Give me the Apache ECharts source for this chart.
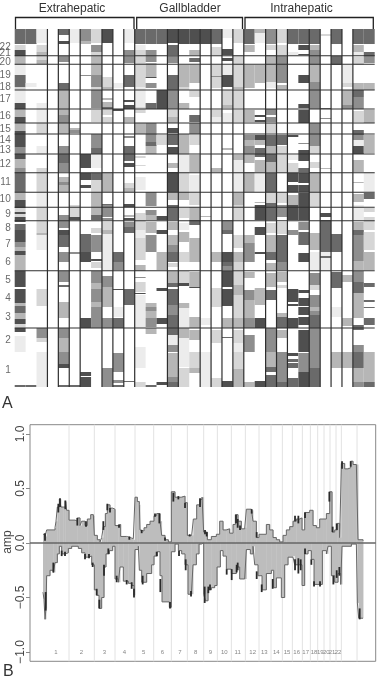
<!DOCTYPE html>
<html>
<head>
<meta charset="utf-8">
<title>CGH</title>
<style>
html, body { margin: 0; padding: 0; background: #fff; }
#main { width: 378px; height: 680px; }
</style>
<script src="https://cdn.jsdelivr.net/npm/echarts@6/dist/echarts.min.js"></script>
</head>
<body>
<div id="main"></div>
<script>
// panel A: one list per sample, each segment is [genome start, genome end, level]
var s01 = [[29,44,5],[45,50,2],[50,56,6],[56,65,3],[65,75,1],[75,87,5],[87,90,2],[90,103,1],[103,109,6],[109,117,3],[117,123,6],[123,131,3],[131,147,6],[147,154,4],[154,159,6],[159,168,3],[168,172,4],[172,192,5],[192,200,3],[200,208,6],[208,212,2],[212,214,6],[214,217,2],[217,222,6],[224,230,5],[230,242,6],[242,247,4],[247,251,3],[251,255,6],[255,271,3],[271,287,6],[289,303,6],[303,306,3],[306,313,5],[313,319,3],[319,324,6],[324,328,2],[328,332,6],[336,352,1],[385,387,5]];
var s02 = [[29,44,5],[83,87,1],[385,387,5]];
var s03 = [[29,43,1],[45,52,2],[52,56,3],[56,60,2],[60,64,3],[103,123,1],[123,134,2],[146,154,1],[168,192,2],[192,207,1],[208,220,2],[220,233,2],[233,235,3],[235,250,1],[289,306,2],[328,338,4],[338,342,2],[352,387,1]];
var s04 = [];
var s05 = [[29,35,5],[41,44,6],[56,62,4],[83,90,5],[90,115,3],[115,123,4],[123,134,3],[146,154,4],[154,163,5],[163,172,4],[177,182,3],[182,185,4],[185,192,3],[215,228,4],[230,235,6],[235,247,5],[252,262,4],[271,282,4],[285,287,5],[302,318,3],[328,338,4],[338,352,3],[352,364,4],[364,368,6],[385,387,5]];
var s06 = [[29,43,1],[128,130,3],[130,133,4],[205,217,2],[217,220,6],[252,254,4],[385,387,5]];
var s07 = [[29,41,4],[41,44,3],[75,76,4],[154,168,6],[173,180,6],[185,188,6],[234,252,5],[252,262,6],[318,328,6],[372,376,6],[377,387,6]];
var s08 = [[29,43,2],[45,52,4],[52,56,2],[56,75,3],[75,87,4],[87,90,2],[90,108,4],[110,122,2],[134,148,4],[148,154,5],[154,168,1],[173,180,5],[180,192,2],[192,205,3],[205,215,3],[215,220,5],[228,233,2],[235,252,4],[259,261,6],[262,268,2],[271,283,4],[283,289,3],[289,302,4],[302,307,3],[307,328,4]];
var s09 = [[29,43,6],[77,87,2],[87,90,3],[98,100,3],[102,107,3],[107,109,5],[110,115,2],[117,122,2],[172,192,3],[204,207,5],[205,217,4],[218,220,4],[222,230,2],[230,234,3],[234,270,1],[276,287,4],[287,307,3],[318,328,4],[368,387,4]];
var s10 = [[83,88,1],[109,111,6],[252,262,5],[262,270,4],[289,290,6],[307,317,1],[318,328,5],[353,372,4],[380,383,4],[385,387,5]];
var s11 = [[29,43,1],[50,55,4],[56,63,4],[75,87,5],[100,102,6],[105,109,6],[117,122,3],[136,138,4],[146,161,5],[163,167,6],[183,188,2],[188,192,3],[204,207,6],[215,217,3],[218,220,6],[222,227,4],[227,233,5],[289,305,5],[381,382,5]];
var s12 = [[29,44,5],[45,50,1],[50,65,2],[65,87,2],[87,90,1],[90,107,1],[107,113,2],[123,134,3],[156,158,2],[165,166,2],[177,190,1],[213,230,2],[230,238,1],[238,260,2],[265,271,3],[277,278,4],[282,292,2],[293,294,6],[295,328,1],[347,368,1],[382,387,2]];
var s13 = [[29,44,5],[50,55,4],[55,62,4],[63,77,3],[77,78,6],[83,88,4],[103,109,5],[123,142,4],[142,146,5],[146,154,3],[192,206,4],[210,215,4],[215,220,3],[222,233,3],[235,252,4],[303,307,3],[307,311,4],[311,318,3],[318,327,4],[328,334,3],[385,387,5]];
var s14 = [[29,44,5],[90,109,6],[135,145,2],[216,220,6],[230,234,6],[252,270,3],[288,291,6],[318,324,6],[382,385,6]];
var s15 = [[29,43,6],[45,55,5],[56,63,4],[75,90,5],[90,109,4],[110,117,2],[117,123,3],[128,133,6],[134,145,5],[147,154,6],[163,168,3],[172,192,6],[192,200,3],[205,220,5],[222,230,3],[235,245,3],[245,252,4],[252,262,5],[263,267,2],[271,283,3],[283,287,5],[289,305,5],[305,315,4],[315,335,5],[335,345,1],[345,352,4],[353,377,3],[377,382,4],[382,387,5]];
var s16 = [[29,44,6],[65,87,3],[87,90,2],[103,109,3],[134,154,3],[154,172,1],[172,192,2],[192,200,3],[208,218,2],[223,230,1],[232,242,3],[252,262,2],[271,283,2],[283,286,6],[303,308,3],[308,328,1],[328,332,3],[332,338,3],[338,367,1],[368,387,2]];
var s17 = [[29,44,6],[50,55,3],[58,62,5],[65,83,3],[90,97,2],[115,122,5],[123,134,4],[135,145,2],[155,172,3],[175,192,1],[193,205,2],[207,220,3],[220,225,5],[238,262,3],[272,287,3],[287,288,6],[317,328,3],[330,340,3],[352,368,2],[368,373,3]];
var s18 = [[29,44,6],[216,217,3],[318,325,1],[352,387,1]];
var s19 = [[29,44,5],[47,55,2],[65,76,2],[76,77,4],[77,88,2],[110,117,2],[117,122,1],[168,172,3],[252,262,3],[288,307,2],[330,343,2],[378,387,2]];
var s20 = [[29,38,1],[49,55,6],[58,61,6],[65,75,1],[75,87,6],[90,105,2],[105,108,3],[113,123,1],[148,150,3],[220,230,4],[230,234,5],[252,262,6],[262,266,5],[266,270,4],[271,287,6],[289,306,6],[318,328,3],[337,338,5],[381,387,6]];
var s21 = [[29,43,2],[55,65,2],[65,87,2],[87,89,3],[90,108,2],[110,122,2],[155,160,3],[160,172,1],[172,192,1],[193,205,3],[205,220,2],[235,248,2],[252,262,3],[262,270,2],[271,285,2],[285,295,3],[295,318,2],[318,328,3],[330,343,2],[343,352,1],[352,369,2],[369,387,3]];
var s22 = [[29,44,5],[45,52,3],[65,88,3],[110,122,3],[135,140,4],[140,146,3],[146,154,4],[154,163,3],[172,192,3],[235,243,3],[243,252,4],[252,262,4],[272,278,3],[290,300,4],[300,318,3],[318,328,4],[335,342,4],[342,352,4],[382,387,3]];
var s23 = [[29,33,3],[33,36,1],[36,43,1],[65,83,3],[115,117,6],[120,122,6],[135,140,6],[140,145,3],[148,157,5],[160,172,3],[172,192,1],[202,203,3],[205,220,6],[227,235,6],[252,254,6],[288,305,3],[318,328,6],[381,387,6]];
var s24 = [[29,44,4],[45,50,2],[55,65,3],[65,82,3],[82,88,1],[109,115,4],[117,122,4],[123,133,2],[135,146,5],[146,154,3],[154,162,5],[162,172,3],[173,192,5],[192,203,2],[203,220,5],[223,233,2],[235,252,3],[252,260,5],[263,270,3],[273,287,3],[290,300,5],[328,352,4],[352,367,3],[367,372,5],[375,387,5]];
var s25 = [[29,43,2],[45,55,2],[56,65,4],[65,83,4],[85,90,3],[135,145,5],[146,154,2],[155,172,2],[192,203,2],[205,217,4],[222,234,2],[235,262,5],[262,270,4],[272,282,3],[285,288,2],[313,317,3],[317,328,5],[330,338,3],[352,382,4],[382,387,5]];
var s26 = [[29,44,5],[52,55,1],[135,137,6],[155,160,1],[163,172,2],[173,182,6],[185,192,6],[195,207,3],[205,220,6],[230,235,4],[289,302,6],[304,306,6],[318,328,6],[353,356,6],[359,362,5],[363,368,5],[378,387,5]];
var s27 = [[29,44,5],[45,50,6],[54,55,6],[75,83,6],[104,108,6],[110,123,6],[143,144,4],[150,161,6],[168,172,5],[173,183,6],[185,192,6],[193,220,6],[222,230,4],[232,245,5],[253,262,6],[290,293,6],[298,306,6],[307,315,6],[317,325,6],[330,352,6],[353,372,4],[372,387,6]];
var s28 = [[29,44,5],[45,50,3],[50,55,4],[55,65,4],[65,82,3],[82,109,4],[123,146,4],[146,154,2],[162,168,2],[172,192,3],[192,207,2],[233,250,3],[252,270,1],[273,285,4],[285,290,2],[295,307,4],[307,311,3],[311,315,4],[315,328,5],[328,368,4],[368,387,5]];
var s29 = [[34,36,2],[108,109,5],[118,119,4],[168,169,3],[213,217,6],[220,252,5],[252,270,1],[256,258,5]];
var s30 = [[29,44,5],[56,65,5],[234,252,5],[272,288,5],[307,317,1],[352,368,3]];
var s31 = [[65,83,1],[83,87,2],[90,105,3],[105,109,4],[275,282,3],[318,326,3],[352,368,3]];
var s32 = [[29,44,5],[45,52,3],[52,55,1],[57,65,2],[83,90,3],[90,97,5],[97,109,4],[111,122,2],[130,135,5],[135,140,4],[140,146,1],[146,154,6],[160,172,3],[182,183,3],[194,202,3],[205,220,1],[222,230,3],[230,235,5],[235,252,4],[252,261,4],[261,270,3],[271,282,4],[282,293,5],[293,318,3],[325,330,5],[345,352,4],[352,368,5],[368,382,3],[382,387,4]];
var s33 = [[29,44,5],[52,56,5],[56,63,4],[83,90,3],[110,123,3],[135,153,3],[172,192,1],[193,199,5],[208,212,2],[217,230,2],[232,250,2],[252,270,3],[283,287,5],[300,302,5],[307,308,5],[318,325,5],[352,382,3],[382,387,5]];
var samples = [s01,s02,s03,s04,s05,s06,s07,s08,s09,s10,s11,s12,s13,s14,s15,s16,s17,s18,s19,s20,s21,s22,s23,s24,s25,s26,s27,s28,s29,s30,s31,s32,s33];
var levelColors = ['#ffffff','#ececec','#d6d6d6','#b6b6b6','#8e8e8e','#6a6a6a','#4f4f4f'];
var boxLines = [3,4,5,6,8,9,10,11,14,15,17,18,19,20,21,23,24,25,27,28,29,30,31];
var chromRules = [55.7,64.3,90,109,123,134,154,172.7,192.3,207.3,220.7,270.7,328];
var chromTicks = [47,53,62,75,87,99,116,129,140,150,164,182,199,214,228,244,262,280,298,317,340,370];
var chromNames = ['22','21','20','19','18','17','16','15','14','13','12','11','10','9','8','7','6','5','4','3','2','1'];

// panel B: genome position, amplitude
var gains = [[129,.08],[135,.06],[140,.12],[150,.12],[165,.14],[168,.2],[172,.33],[178,.4],[183,.33],[190,.33],[196,.38],[200,.3],[207,.21],[225,.2],[232,.23],[240,.16],[245,.2],[255,.16],[262,.22],[272,.26],[280,.25],[283,.07],[292,.03],[300,.01],[305,.05],[310,.15],[316,.27],[322,.35],[330,.32],[338,.31],[345,.16],[355,.17],[362,.06],[380,.05],[390,.04],[400,.03],[405,.42],[412,.38],[418,.35],[420,.12],[425,.11],[432,.14],[440,.17],[450,.2],[462,.25],[470,.27],[480,.2],[485,.07],[495,.03],[505,.01],[514,.47],[525,.42],[545,.43],[555,.37],[562,.07],[575,.07],[580,.22],[590,.35],[600,.4],[606,.42],[611,.1],[616,.1],[622,.03],[634,.06],[649,.08],[659,.2],[669,.12],[679,.13],[689,.09],[699,.17],[706,.26],[714,.2],[724,.13],[734,.14],[739,.31],[754,.3],[759,.2],[769,.05],[777,.08],[789,.08],[799,.17],[809,.12],[819,.05],[829,.03],[839,.01],[849,.07],[859,.12],[869,.15],[879,.2],[889,.22],[899,.23],[906,.12],[914,.28],[929,.3],[939,.16],[949,.14],[959,.22],[969,.22],[979,.27],[989,.47],[996,.1],[1004,.12],[1012,.18],[1019,.05],[1024,.73],[1034,.68],[1044,.69],[1052,.75],[1059,.72],[1069,.72],[1074,.03],[1089,.02]];
var losses = [[129,-.45],[132,-.52],[135,-.7],[138,-.6],[140,-.3],[150,-.25],[160,-.27],[165,-.18],[172,-.1],[178,-.03],[185,-.1],[190,-.1],[195,-.09],[205,-.05],[215,-.03],[225,-.03],[235,-.05],[245,-.09],[255,-.13],[265,-.12],[275,-.2],[283,-.43],[290,-.48],[297,-.6],[305,-.5],[312,-.22],[318,-.1],[328,-.07],[338,-.03],[345,-.33],[355,-.36],[360,-.22],[370,-.35],[385,-.37],[395,-.39],[402,-.48],[405,-.06],[415,-.03],[418,-.25],[425,-.36],[432,-.36],[440,-.28],[455,-.2],[462,-.12],[472,-.08],[480,-.3],[486,-.54],[498,-.54],[508,-.59],[514,-.08],[525,-.01],[535,-.07],[545,-.1],[555,-.2],[564,-.47],[574,-.47],[579,-.2],[589,-.1],[597,-.01],[604,0],[611,-.47],[616,-.53],[624,-.43],[634,-.41],[644,-.39],[651,-.22],[661,-.07],[669,-.12],[679,-.24],[694,-.28],[709,-.22],[719,-.33],[734,-.33],[739,-.06],[751,-.1],[759,-.03],[764,-.2],[774,-.3],[786,-.43],[799,-.28],[814,-.25],[821,-.41],[829,-.32],[844,-.5],[854,-.2],[864,-.13],[879,-.12],[884,-.2],[899,-.2],[906,-.39],[914,-.1],[924,-.07],[934,-.15],[942,-.38],[959,-.38],[967,-.07],[979,-.1],[984,-.03],[994,-.3],[1004,-.36],[1014,-.28],[1022,-.38],[1026,-.03],[1054,-.01],[1069,0],[1072,-.55],[1076,-.69],[1089,-.69]];
var darkSpans = [[135,.02,.09],[175,.28,.36],[180,.33,.41],[196,.31,.39],[232,.16,.23],[258,.15,.2],[310,.12,.2],[322,.3,.36],[330,.28,.32],[357,.14,.17],[388,.03,.06],[425,.09,.12],[465,.24,.27],[478,.18,.27],[495,.02,.05],[520,.38,.46],[535,.4,.43],[555,.32,.37],[569,.06,.08],[600,.33,.41],[615,.08,.12],[620,.06,.1],[708,.18,.26],[713,.14,.22],[720,.12,.16],[755,.27,.31],[770,.05,.1],[885,.2,.25],[895,.18,.25],[915,.23,.28],[988,.38,.47],[998,.1,.15],[1010,.12,.18],[1026,.68,.75],[1052,.7,.75],
  [137,-.62,-.45],[160,-.27,-.18],[185,-.12,-.07],[195,-.12,-.08],[255,-.15,-.1],[267,-.14,-.1],[278,-.22,-.18],[290,-.48,-.42],[298,-.6,-.52],[312,-.3,-.2],[325,-.1,-.05],[350,-.36,-.3],[380,-.38,-.34],[395,-.42,-.36],[402,-.5,-.42],[428,-.38,-.3],[470,-.12,-.08],[481,-.45,-.33],[510,-.6,-.54],[537,-.12,-.07],[557,-.25,-.15],[573,-.49,-.44],[614,-.55,-.4],[625,-.46,-.4],[630,-.43,-.38],[680,-.29,-.24],[695,-.34,-.24],[710,-.27,-.2],[713,-.25,-.18],[770,-.33,-.26],[785,-.45,-.38],[818,-.42,-.33],[885,-.25,-.15],[895,-.28,-.14],[902,-.25,-.15],[915,-.1,-.05],[934,-.2,-.15],[942,-.4,-.35],[960,-.4,-.35],[1000,-.38,-.3],[1010,-.32,-.25],[1018,-.3,-.22],[1079,-.7,-.6]];
var chromEdges = [207,283,345,405,461,514,562,611,652,694,736,777,813,847,877,907,931,953,972,990,1008,1024,1071];
var chromMids = [168,244,313,373,431,487,540,587,631,673,713,758,793,829,861,890,917,942,961,979,996,1014];
var chromIds = ['1','2','3','4','5','6','7','8','9','10','11','12','13','14','15','16','17','18','19','20','21','22'];
var ampTicks = [-1,-.5,0,.5,1];

var groups = [
    { name: 'Extrahepatic', from: 15.5, to: 134, mid: 72 },
    { name: 'Gallbladder', from: 136.7, to: 242.5, mid: 190 },
    { name: 'Intrahepatic', from: 245, to: 373.3, mid: 301.5 }
];

var segments = [];
samples.forEach(function (list, i) {
    list.forEach(function (seg) {
        segments.push([i, seg[0], seg[1], seg[2]]);
    });
});

// area under each step of the profile: [from, to, amplitude]
var steps = [];
[gains, losses].forEach(function (list) {
    list.forEach(function (p, i) {
        if (i < list.length - 1) steps.push([p[0], list[i + 1][0], p[1]]);
    });
});

function drawSegment(params, api) {
    var a = api.coord([api.value(0), api.value(1)]);
    var b = api.coord([api.value(0) + 1, api.value(2)]);
    return {
        type: 'rect',
        shape: { x: a[0], y: a[1], width: b[0] - a[0], height: b[1] - a[1] },
        style: { fill: levelColors[api.value(3)] }
    };
}

function drawStep(params, api) {
    var a = api.coord([api.value(0), 0]);
    var b = api.coord([api.value(1), api.value(2)]);
    return {
        type: 'rect',
        shape: { x: a[0], y: Math.min(a[1], b[1]), width: b[0] - a[0] + 0.4, height: Math.abs(b[1] - a[1]) },
        style: { fill: '#bdbdbd' }
    };
}

// v: vertical rule at value, h: horizontal rule at value
function ruleDrawer(axisDim, lo, hi, color, width) {
    return function (params, api) {
        var v = api.value(0);
        var a = axisDim === 'x' ? api.coord([v, lo]) : api.coord([lo, v]);
        var b = axisDim === 'x' ? api.coord([v, hi]) : api.coord([hi, v]);
        return {
            type: 'line',
            shape: { x1: a[0], y1: a[1], x2: b[0], y2: b[1] },
            style: { stroke: color, lineWidth: width }
        };
    };
}

function drawSpan(params, api) {
    var a = api.coord([api.value(0), api.value(1)]);
    var b = api.coord([api.value(0), api.value(2)]);
    return {
        type: 'line',
        shape: { x1: a[0], y1: a[1], x2: b[0], y2: b[1] },
        style: { stroke: '#2a2a2a', lineWidth: 1.8 }
    };
}

var graphics = [
    { type: 'text', left: 2, top: 396, style: { text: 'A', font: '16px "Liberation Sans"', fill: '#333' } },
    { type: 'text', left: 3, top: 664, style: { text: 'B', font: '16px "Liberation Sans"', fill: '#333' } },
    { type: 'text', x: 8, y: 542, rotation: Math.PI / 2, style: { text: 'amp', font: '12px "Liberation Sans"', fill: '#444', textAlign: 'center', textVerticalAlign: 'middle' } }
];
groups.forEach(function (g) {
    graphics.push({
        type: 'polyline',
        shape: { points: [[g.from, 29], [g.from, 17.5], [g.to, 17.5], [g.to, 29]] },
        style: { stroke: '#222', lineWidth: 1.3, fill: null }
    });
    graphics.push({
        type: 'text', x: g.mid, y: 9,
        style: { text: g.name, font: '12px "Liberation Sans"', fill: '#333', textAlign: 'center', textVerticalAlign: 'middle' }
    });
});

var chart = echarts.init(document.getElementById('main'), null, { renderer: 'canvas' });
chart.setOption({
    animation: false,
    backgroundColor: '#fff',
    graphic: graphics,
    grid: [
        { left: 14.7, top: 29, width: 360, height: 358, outerBoundsMode: 'none' },
        { left: 30, top: 424.7, width: 345.7, height: 236.6, outerBoundsMode: 'none', show: true, borderColor: '#888', borderWidth: 1, backgroundColor: 'transparent' }
    ],
    xAxis: [
        { gridIndex: 0, type: 'value', min: 0, max: 33, show: false },
        { gridIndex: 1, type: 'value', min: 90, max: 1127, show: false }
    ],
    yAxis: [
        {
            gridIndex: 0, type: 'value', inverse: true, min: 29, max: 387,
            axisLine: { show: false }, axisTick: { show: false }, splitLine: { show: false }, axisLabel: { show: false }
        },
        {
            gridIndex: 1, type: 'value', min: -1.085, max: 1.085,
            axisLine: { show: false }, splitLine: { show: false },
            axisTick: { show: true, length: 4, customValues: ampTicks, lineStyle: { color: '#888' } },
            axisLabel: {
                customValues: ampTicks, rotate: 90, margin: 3, fontSize: 12, color: '#444', fontFamily: 'Liberation Sans',
                hideOverlap: false, showMinLabel: true, showMaxLabel: true,
                formatter: function (v) { return (v < 0 ? '\u2212' : '') + Math.abs(v).toFixed(1); }
            }
        }
    ],
    series: [
        { type: 'custom', xAxisIndex: 0, yAxisIndex: 0, data: segments, renderItem: drawSegment, encode: { x: 0, y: 1 }, silent: true, clip: false },
        { type: 'custom', xAxisIndex: 0, yAxisIndex: 0, z: 3, data: boxLines.map(function (v) { return [v]; }), renderItem: ruleDrawer('x', 29, 387, '#2e2e2e', 1.2), encode: { x: 0 }, silent: true },
        { type: 'custom', xAxisIndex: 0, yAxisIndex: 0, z: 3, data: chromRules.map(function (v) { return [v]; }), renderItem: ruleDrawer('y', 0, 33, '#2e2e2e', 1.1), encode: { y: 0 }, silent: true },
        {
            type: 'scatter', xAxisIndex: 0, yAxisIndex: 0, z: 4, symbolSize: 0, silent: true, clip: false,
            data: chromTicks.map(function (y, i) { return { value: [0, y], name: chromNames[i] }; }),
            label: { show: true, position: 'left', distance: 4, formatter: '{b}', fontSize: 10, color: '#444', fontFamily: 'Liberation Sans' }
        },
        { type: 'custom', xAxisIndex: 1, yAxisIndex: 1, z: 1, data: chromEdges.map(function (v) { return [v]; }), renderItem: ruleDrawer('x', -1.085, 1.085, '#e2e2e2', 1), encode: { x: 0 }, silent: true },
        { type: 'custom', xAxisIndex: 1, yAxisIndex: 1, z: 2, data: steps, renderItem: drawStep, encode: { x: 0, y: 2 }, silent: true },
        { type: 'line', xAxisIndex: 1, yAxisIndex: 1, z: 2, step: 'end', data: gains, symbol: 'none', silent: true, lineStyle: { color: '#666', width: 1 } },
        { type: 'line', xAxisIndex: 1, yAxisIndex: 1, z: 2, step: 'end', data: losses, symbol: 'none', silent: true, lineStyle: { color: '#666', width: 1 } },
        { type: 'custom', xAxisIndex: 1, yAxisIndex: 1, z: 3, data: darkSpans, renderItem: drawSpan, encode: { x: 0, y: 1 }, silent: true },
        { type: 'custom', xAxisIndex: 1, yAxisIndex: 1, z: 4, data: [[0]], renderItem: ruleDrawer('y', 90, 1127, '#666', 1.5), encode: { y: 0 }, silent: true },
        {
            type: 'scatter', xAxisIndex: 1, yAxisIndex: 1, z: 4, symbolSize: 0, silent: true,
            data: chromMids.map(function (x, i) { return { value: [x, -1], name: chromIds[i] }; }),
            label: { show: true, position: 'inside', formatter: '{b}', fontSize: 6, color: '#666', fontFamily: 'Liberation Sans' }
        }
    ]
});

var idt;
window.addEventListener('resize', function () {
    if (idt) clearTimeout(idt);
    idt = setTimeout(function () { chart.resize(); }, 300);
});
</script>
</body>
</html>
